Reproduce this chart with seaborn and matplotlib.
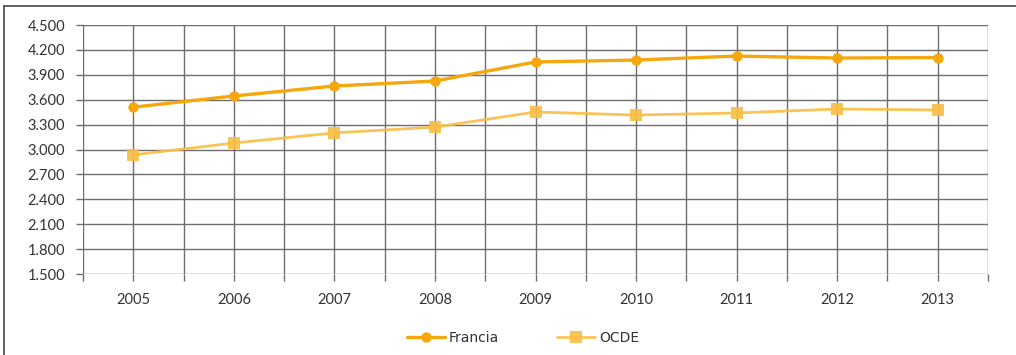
import matplotlib
matplotlib.use("Agg")
import matplotlib.pyplot as plt
import seaborn as sns
import pandas as pd
from matplotlib.lines import Line2D
from matplotlib.ticker import FuncFormatter, MultipleLocator

years = [2005, 2006, 2007, 2008, 2009, 2010, 2011, 2012, 2013]
francia = [3510, 3645, 3765, 3825, 4055, 4078, 4126, 4102, 4108]
ocde = [2935, 3078, 3200, 3270, 3452, 3415, 3440, 3488, 3476]
series_names = ["Francia", "OCDE"]
y_ticks = [1500, 1800, 2100, 2400, 2700, 3000, 3300, 3600, 3900, 4200, 4500]

c_fr = "#F5A70D"
c_oc = "#F9BE45"

sns.set_theme(style="white")
plt.rcParams["font.family"] = ["DejaVu Sans"]

df = pd.DataFrame({
    "year": years * 2,
    "value": francia + ocde,
    "serie": [series_names[0]] * len(years) + [series_names[1]] * len(years),
})

fig = plt.figure(figsize=(10.16, 3.55), dpi=100)
ax = fig.add_axes([83 / 1016, 1 - 274 / 355, 905 / 1016, 249 / 355])

sns.lineplot(data=df[df.serie == "Francia"], x="year", y="value", ax=ax,
             color=c_fr, linewidth=2.4, marker="o", markersize=7.5,
             markeredgewidth=0, zorder=4, legend=False)
sns.lineplot(data=df[df.serie == "OCDE"], x="year", y="value", ax=ax,
             color=c_oc, linewidth=2.0, marker="s", markersize=8.5,
             markeredgewidth=0, alpha=0.9, zorder=3, legend=False)

ax.set_xlim(years[0] - 0.5, years[-1] + 0.5)
ax.set_ylim(y_ticks[0], y_ticks[-1])
ax.set_yticks(y_ticks)
ax.yaxis.set_major_formatter(FuncFormatter(lambda v, p: f"{int(v):,}".replace(",", ".")))
ax.set_xticks(years)
ax.set_xticklabels([str(y) for y in years])
ax.xaxis.set_minor_locator(MultipleLocator(0.5))
ax.grid(True, which="both", axis="x", color="#6e6e6e", linewidth=1.0)
ax.grid(True, which="major", axis="y", color="#6e6e6e", linewidth=1.0)
ax.set_axisbelow(True)
for s in ax.spines.values():
    s.set_visible(False)
ax.tick_params(axis="y", which="major", length=5, width=1, color="#6e6e6e",
               left=True, labelsize=10.5, labelcolor="#333333", pad=8)
ax.tick_params(axis="x", which="both", length=5, width=1, color="#6e6e6e",
               bottom=True, labelsize=10.5, labelcolor="#333333", pad=9)
for lab in ax.get_xticklabels() + ax.get_yticklabels():
    lab.set_family(["Lato", "DejaVu Sans"])
ax.set_xlabel("")
ax.set_ylabel("")

handles = [
    Line2D([], [], color=c_fr, linewidth=2.4, marker="o", markersize=7.5, markeredgewidth=0),
    Line2D([], [], color=c_oc, linewidth=2.0, marker="s", markersize=8.5, markeredgewidth=0, alpha=0.9),
]
fig.legend(handles, series_names, loc="center", bbox_to_anchor=(0.515, 1 - 338 / 355),
           ncol=2, frameon=False, fontsize=10, handlelength=2.7, columnspacing=4.2,
           handletextpad=0.3, labelcolor="#333333")

# outer frame (left and top edges)
fig.add_artist(Line2D([4 / 1016, 4 / 1016], [0, 1 - 6 / 355], transform=fig.transFigure,
                      color="#444444", linewidth=1.2))
fig.add_artist(Line2D([4 / 1016, 1], [1 - 6 / 355, 1 - 6 / 355], transform=fig.transFigure,
                      color="#444444", linewidth=1.2))

fig.savefig("out.png", dpi=100)
